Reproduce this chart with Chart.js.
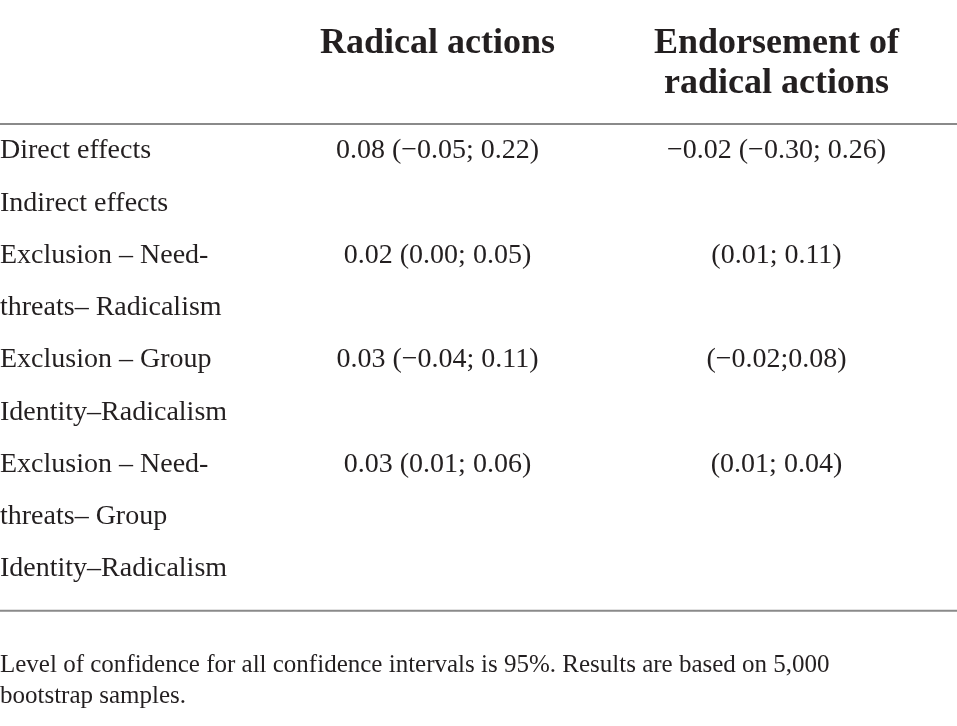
<!DOCTYPE html>
<html>
<head>
<meta charset="utf-8">
<script src="https://cdn.jsdelivr.net/npm/chart.js@4/dist/chart.umd.min.js"></script>
<style>
    html, body { margin: 0; padding: 0; background: #ffffff; }
    #wrap { width: 957px; height: 726px; }
</style>
</head>
<body>
<div id="wrap"><canvas id="tableChart"></canvas></div>
<script>
    // column headers (multi-line)
    const columnHeaders = [
        ["Radical actions"],
        ["Endorsement of", "radical actions"]
    ];

    // one entry per printed text line of the first column
    const rowLines = [
        "Direct effects",
        "Indirect effects",
        "Exclusion \u2013 Need-",
        "threats\u2013 Radicalism",
        "Exclusion \u2013 Group",
        "Identity\u2013Radicalism",
        "Exclusion \u2013 Need-",
        "threats\u2013 Group",
        "Identity\u2013Radicalism"
    ];

    // cell values, aligned with rowLines
    const radicalActions = [
        "0.08 (\u22120.05; 0.22)",
        "",
        "0.02 (0.00; 0.05)",
        "",
        "0.03 (\u22120.04; 0.11)",
        "",
        "0.03 (0.01; 0.06)",
        "",
        ""
    ];
    const endorsement = [
        "\u22120.02 (\u22120.30; 0.26)",
        "",
        "(0.01; 0.11)",
        "",
        "(\u22120.02;0.08)",
        "",
        "(0.01; 0.04)",
        "",
        ""
    ];

    const footnote = [
        "Level of confidence for all confidence intervals is 95%. Results are based on 5,000",
        "bootstrap samples."
    ];

    const TEXT = '#231f20';
    const RULE = '#8a8a8a';
    const FAMILY = '"Liberation Serif", "DejaVu Serif", serif';

    // draws the cell strings and the horizontal rules
    const cellPlugin = {
        id: 'cells',
        afterDraw(chart) {
            const ctx = chart.ctx;
            const x = chart.scales.x;
            const y = chart.scales.y;
            const columns = [radicalActions, endorsement];
            ctx.save();
            ctx.fillStyle = TEXT;
            ctx.font = '28px ' + FAMILY;
            ctx.textAlign = 'center';
            ctx.textBaseline = 'middle';
            columns.forEach(function (col, j) {
                col.forEach(function (txt, i) {
                    if (txt) ctx.fillText(txt, x.getPixelForValue(j), y.getPixelForValue(i));
                });
            });

            // rules span the full width
            const step = y.getPixelForValue(1) - y.getPixelForValue(0);
            ctx.strokeStyle = RULE;
            ctx.lineWidth = 2;
            const topRule = y.getPixelForValue(0) - step * 0.517;
            const bottomRule = y.getPixelForValue(rowLines.length - 1) + step * 0.80;
            [topRule, bottomRule].forEach(function (py) {
                ctx.beginPath();
                ctx.moveTo(0, py);
                ctx.lineTo(chart.width, py);
                ctx.stroke();
            });
            ctx.restore();
        }
    };

    document.addEventListener('DOMContentLoaded', function () {
        const ctx = document.getElementById('tableChart');
        new Chart(ctx, {
            type: 'line',
            data: {
                xLabels: columnHeaders,
                yLabels: rowLines,
                datasets: []
            },
            plugins: [cellPlugin],
            options: {
                responsive: true,
                maintainAspectRatio: false,
                animation: false,
                events: [],
                layout: {
                    padding: { left: 0, right: 11, top: 0, bottom: 0 }
                },
                plugins: {
                    legend: { display: false },
                    tooltip: { enabled: false },
                    title: {
                        display: true,
                        position: 'bottom',
                        align: 'start',
                        text: footnote,
                        color: TEXT,
                        font: { family: FAMILY, size: 25, weight: 'normal', lineHeight: 31 / 25 },
                        padding: { top: 81, bottom: 14 }
                    }
                },
                scales: {
                    x: {
                        type: 'category',
                        position: 'top',
                        offset: true,
                        border: { display: false },
                        grid: { display: false, drawTicks: false },
                        ticks: {
                            color: TEXT,
                            font: { family: FAMILY, size: 36, weight: 'bold', lineHeight: 40 / 36 },
                            padding: 47,
                            crossAlign: 'far',
                            maxRotation: 0,
                            autoSkip: false
                        },
                        afterFit: function (s) { s.height = 151; }
                    },
                    y: {
                        type: 'category',
                        position: 'left',
                        offset: false,
                        border: { display: false },
                        grid: { display: false, drawTicks: false },
                        ticks: {
                            color: TEXT,
                            font: { family: FAMILY, size: 28 },
                            crossAlign: 'far',
                            autoSkip: false,
                            padding: 0
                        },
                        afterFit: function (s) { s.width = 268; }
                    }
                }
            }
        });
    });
</script>
</body>
</html>
